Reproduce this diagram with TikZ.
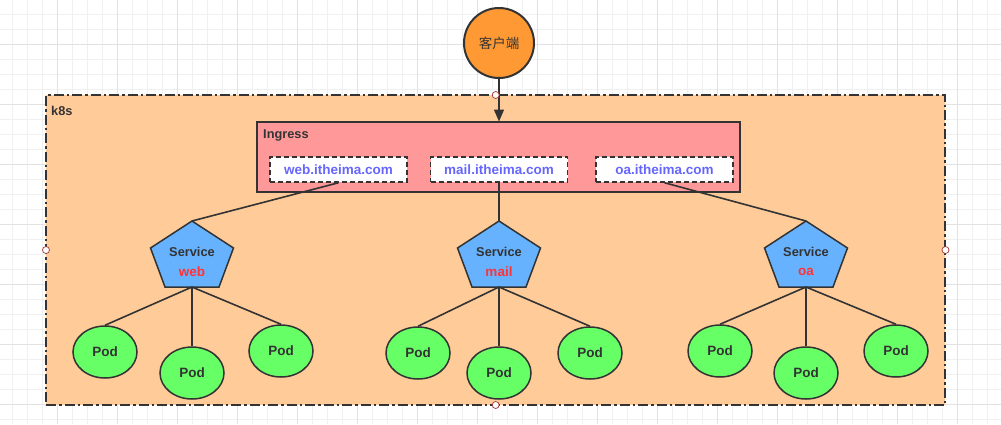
\documentclass[tikz,border=0pt]{standalone}
\usepackage{fontspec}
\setmainfont{Liberation Sans}
\newfontfamily\cjk{Noto Sans CJK SC}
\usetikzlibrary{arrows.meta,shapes.geometric}
\definecolor{gridminor}{HTML}{F0F0F0}
\definecolor{gridmajor}{HTML}{E2E2E2}
\definecolor{k8sfill}{HTML}{FFCC99}
\definecolor{ingfill}{HTML}{FF9999}
\definecolor{clientfill}{HTML}{FF9933}
\definecolor{svcfill}{HTML}{66B2FF}
\definecolor{podfill}{HTML}{66FF66}
\definecolor{urlblue}{HTML}{6666FF}
\definecolor{svcred}{HTML}{FF3333}
\definecolor{ink}{HTML}{333333}
\definecolor{handle}{HTML}{A33333}
\tikzset{
  ln/.style={draw=ink, line width=1.6pt},
  urlbox/.style={draw=ink, line width=1.5pt, dashed, dash pattern=on 5pt off 3pt, fill=white, minimum width=137pt, minimum height=25pt, inner sep=0pt, text=urlblue, font=\bfseries\fontsize{13.5}{15}\selectfont},
  pod/.style={ellipse, draw=ink, line width=1.5pt, fill=podfill, minimum width=64pt, minimum height=52pt, inner sep=0pt, font=\bfseries\fontsize{13.5}{15}\selectfont, text=ink},
  svcpent/.style={draw=ink, line width=1.5pt, fill=svcfill},
  hnd/.style={circle, draw=handle, fill=white, line width=0.7pt, minimum size=7pt, inner sep=0pt},
  lbl/.style={font=\bfseries\fontsize{12.8}{14}\selectfont, text=ink, inner sep=0pt}
}
\begin{document}
\begin{tikzpicture}[x=1pt,y=-1pt]
\useasboundingbox (0,0) rectangle (1001,424);
% grid
\foreach \x in {0,...,66} {\draw[gridminor, line width=0.8pt] (12.3+15*\x,0) -- (12.3+15*\x,424);}
\foreach \y in {0,...,28} {\draw[gridminor, line width=0.8pt] (0,14.3+15*\y) -- (1001,14.3+15*\y);}
\foreach \x in {0,...,16} {\draw[gridmajor, line width=0.8pt] (57.3+60*\x,0) -- (57.3+60*\x,424);}
\foreach \y in {0,...,6} {\draw[gridmajor, line width=0.8pt] (0,44.3+60*\y) -- (1001,44.3+60*\y);}
% k8s box
\node[draw=ink, fill=k8sfill, line width=2pt, dash pattern=on 10pt off 3pt on 2.5pt off 3pt, minimum width=899pt, minimum height=310pt, inner sep=0pt] (k8s) at (495.7,250) {};
\node[lbl, anchor=west] (k8slbl) at (51,111) {k8s};
% client
\node[circle, draw=ink, fill=clientfill, line width=2pt, minimum size=70pt, inner sep=0pt, font=\cjk\fontsize{13.5}{15}\selectfont, text=ink] (client) at (499,43) {客户端};
% ingress
\node[draw=ink, fill=ingfill, line width=1.5pt, minimum width=483pt, minimum height=70pt, inner sep=0pt] (ing) at (498.5,157) {};
\node[lbl, anchor=west] (inglbl) at (263,135) {Ingress};
\draw[ln, -{Triangle[length=12pt,width=10pt]}] (client.south) -- (499,121.5) coordinate (ingtop);
% url boxes
\node[urlbox] (uweb) at (338.5,169.5) {web.itheima.com};
\node[urlbox] (umail) at (499,169.5) {mail.itheima.com};
\node[urlbox] (uoa) at (664.5,169.5) {oa.itheima.com};
% services
\foreach \n/\cx/\name in {sweb/192/web, smail/499/mail, soa/806/oa} {
  \draw[svcpent] (\cx,221) -- (\cx+41.5,248) -- (\cx+27,287) -- (\cx-27,287) -- (\cx-41.5,248) -- cycle;
  \coordinate (\n top) at (\cx,221);
  \coordinate (\n bot) at (\cx,287);
  \node[lbl] (\n t1) at (\cx,252) {Service};
  \node[lbl, text=svcred, font=\bfseries\fontsize{13.5}{15}\selectfont] (\n t2) at (\cx,271.5) {\name};
}
% connectors ingress -> services
\draw[ln] (uweb.south) -- (swebtop);
\draw[ln] (umail.south) -- (smailtop);
\draw[ln] (uoa.south) -- (soatop);
% pods
\node[pod] (pw1) at (105,352) {Pod};
\node[pod] (pw2) at (192,373) {Pod};
\node[pod] (pw3) at (281,351) {Pod};
\node[pod] (pm1) at (418,353) {Pod};
\node[pod] (pm2) at (499,373) {Pod};
\node[pod] (pm3) at (590,353) {Pod};
\node[pod] (po1) at (720,351) {Pod};
\node[pod] (po2) at (806,373) {Pod};
\node[pod] (po3) at (896,351) {Pod};
\foreach \s/\a/\b/\c in {sweb/pw1/pw2/pw3, smail/pm1/pm2/pm3, soa/po1/po2/po3} {
  \draw[ln] (\s bot) -- (\a.north);
  \draw[ln] (\s bot) -- (\b.north);
  \draw[ln] (\s bot) -- (\c.north);
}
% handles
\node[hnd] (h1) at (495.7,95) {};
\node[hnd] (h2) at (46,250) {};
\node[hnd] (h3) at (945.5,250) {};
\node[hnd] (h4) at (495.7,405) {};
\end{tikzpicture}
\end{document}
